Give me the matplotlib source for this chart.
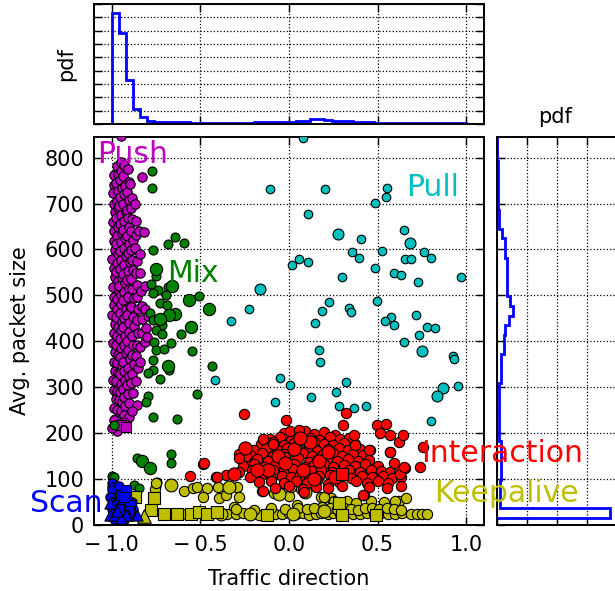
import numpy as np
import matplotlib
matplotlib.use("Agg")
import matplotlib.pyplot as plt

plt.rcParams['font.family'] = ['DejaVu Sans']

# ---------------- data ----------------
x_ticks = [-1.0, -0.5, 0.0, 0.5, 1.0]
x_ticklabels = ['\u2212\u20091.0', '\u2212\u20090.5', '0.0', '0.5', '1.0']
y_ticks = [0, 100, 200, 300, 400, 500, 600, 700, 800]

# Push (magenta)
push_x = [
    -0.99, -0.985, -0.995, -0.988, -0.982, -0.993, -0.986, -0.99, -0.981, -0.996, -0.987, -0.983, -0.994,
    -0.985, -0.99, -0.997, -0.982, -0.988, -0.995, -0.984, -0.99, -0.98, -0.993, -0.986, -0.978, -0.988,
    -0.97, -0.965, -0.975, -0.962, -0.972, -0.967, -0.976, -0.962, -0.97, -0.974, -0.964, -0.97, -0.977, -0.966,
    -0.96, -0.973, -0.968, -0.975, -0.963, -0.97, -0.976, -0.965, -0.97, -0.962, -0.974, -0.968, -0.96, -0.97, -0.965,
    -0.95, -0.945, -0.955, -0.943, -0.951, -0.957, -0.947, -0.953, -0.94, -0.949, -0.955, -0.945, -0.952, -0.943, -0.958,
    -0.948, -0.945, -0.954, -0.941, -0.95, -0.956, -0.945, -0.951, -0.943, -0.955, -0.947, -0.952, -0.942, -0.95, -0.955,
    -0.93, -0.935, -0.925, -0.932, -0.938, -0.922, -0.93, -0.936, -0.926, -0.933, -0.92, -0.931, -0.937, -0.924, -0.93,
    -0.934, -0.921, -0.929, -0.936, -0.925, -0.932, -0.92, -0.934, -0.928, -0.923, -0.935, -0.93, -0.926, -0.933,
    -0.91, -0.905, -0.915, -0.902, -0.913, -0.907, -0.9, -0.916, -0.905, -0.911, -0.898, -0.908, -0.915, -0.903,
    -0.909, -0.897, -0.912, -0.905, -0.901, -0.914, -0.906, -0.899, -0.91, -0.904, -0.915, -0.907, -0.901,
    -0.895, -0.888, -0.892, -0.884, -0.89, -0.882, -0.893, -0.886, -0.878, -0.89, -0.884, -0.876, -0.889, -0.88,
    -0.874, -0.887, -0.879, -0.885, -0.872, -0.883, -0.89, -0.878,
    -0.87, -0.865, -0.862, -0.866, -0.858, -0.863, -0.855, -0.86, -0.852, -0.857, -0.85, -0.858, -0.862, -0.854, -0.864,
    -0.848, -0.842, -0.838, -0.835, -0.83, -0.828, -0.832, -0.838, -0.843,
    -0.83, -0.82, -0.815, -0.81, -0.805, -0.815,
    -0.795, -0.8,
    -0.97, -1.0, -0.9, -0.86, -0.885, -0.95, -0.93, -0.99,
]
push_y = [
    762, 741, 722, 699, 681, 660, 641, 619, 598, 580, 559, 540, 518,
    497, 479, 458, 437, 418, 396, 377, 356, 335, 316, 294, 275, 254,
    781, 765, 744, 727, 706, 690, 668, 650, 629, 611, 590, 571, 550, 532,
    511, 492, 471, 452, 431, 412, 392, 371, 352, 331, 313, 291, 272, 251, 232,
    790, 772, 752, 733, 714, 694, 676, 655, 637, 616, 597, 578, 558, 539, 520,
    500, 482, 461, 443, 424, 404, 385, 366, 346, 328, 307, 289, 268, 249, 228,
    785, 760, 738, 720, 699, 681, 662, 642, 624, 603, 585, 566, 546, 528, 507,
    489, 470, 450, 432, 411, 393, 374, 354, 336, 315, 297, 278, 259, 240,
    775, 748, 726, 708, 687, 668, 649, 630, 611, 592, 573, 553, 534, 515,
    496, 477, 458, 439, 420, 401, 382, 362, 343, 324, 305, 286, 266,
    742, 712, 690, 666, 641, 620, 598, 577, 556, 536, 515, 494, 474, 453,
    433, 412, 391, 370, 350, 329, 309, 288,
    700, 662, 631, 604, 575, 548, 522, 497, 470, 446, 419, 393, 367, 341, 314,
    640, 590, 548, 510, 477, 448, 418, 388, 356,
    757, 638, 520, 470, 430, 398,
    455, 410,
    205, 212, 235, 262, 248, 848, 225, 228,
]
push_sq_x = [-0.945, -0.917]
push_sq_y = [217, 213]

# Mix (green)
mix_x = [-0.774, -0.774, -0.644, -0.68, -0.593, -0.767, -0.748, -0.68, -0.78, -0.738, -0.766, -0.695,
         -0.507, -0.729, -0.688, -0.785, -0.77, -0.714, -0.748, -0.718, -0.612, -0.763, -0.667, -0.751,
         -0.704, -0.546, -0.767, -0.676, -0.767, -0.729, -0.433, -0.518, -0.793, -0.804, -0.767, -0.633,
         -0.793, -0.857, -0.663, -0.663, -1.0, -0.99, -0.876, -0.846, -0.747, -0.75, -0.99]
mix_y = [772, 735, 628, 612, 614, 598, 542, 518, 525, 512, 505, 500,
         499, 483, 480, 462, 446, 435, 424, 415, 415, 398, 397, 382,
         384, 379, 359, 337, 337, 319, 346, 285, 281, 268, 235, 230,
         330, 147, 154, 136, 106, 104, 87, 80, 94, 86, 217]
mix_big_x = [-0.748, -0.659, -0.565, -0.452, -0.644, -0.676, -0.729, -0.555, -0.685, -0.827, -0.785]
mix_big_y = [558, 520, 491, 470, 460, 457, 449, 431, 347, 140, 125]

# Pull (cyan)
pull_x = [0.077, 0.203, 0.555, 0.548, 0.486, 0.109, 0.405, 0.651, 0.356, 0.395,
          0.524, 0.655, 0.691, 0.763, 0.80, 0.058, 0.109, 0.015, 0.486, 0.30,
          0.593, 0.634, 0.729, 0.972, 0.499, 0.228, 0.186, 0.341, 0.35, 0.145,
          0.575, 0.544, 0.593, 0.719, 0.78, 0.823, 0.731, 0.648, 0.168, 0.175,
          0.927, 0.929, 0.32, 0.266, 0.126, 0.951, 0.284, 0.369, 0.437, 0.005,
          -0.105, -0.226, -0.328, -0.416, -0.051, -0.077, 0.80]
pull_y = [843, 732, 735, 715, 702, 678, 622, 643, 595, 582,
          597, 579, 579, 595, 582, 580, 572, 567, 560, 540,
          548, 544, 530, 541, 487, 486, 467, 472, 464, 440,
          453, 444, 435, 457, 431, 428, 413, 399, 382, 356,
          369, 362, 311, 290, 278, 302, 259, 254, 259, 304,
          731, 471, 445, 315, 321, 268, 226]
pull_big_x = [0.275, 0.685, 0.75, 0.866, 0.836, -0.165]
pull_big_y = [633, 615, 379, 298, 282, 515]

# Interaction (red)
inter_x = [
    -0.03, 0.03, 0.09, 0.14, 0.2, 0.26,
    -0.11, -0.05, 0.01, 0.06, 0.12, 0.17, 0.23, 0.29, 0.34,
    -0.16, -0.09, -0.03, 0.03, 0.08, 0.14, 0.2, 0.25, 0.31, 0.37,
    -0.2, -0.13, -0.07, -0.01, 0.05, 0.11, 0.16, 0.22, 0.28, 0.33, 0.4,
    -0.22, -0.15, -0.09, -0.03, 0.02, 0.08, 0.13, 0.19, 0.25, 0.3, 0.36, 0.42,
    -0.24, -0.18, -0.12, -0.06, 0.0, 0.05, 0.11, 0.16, 0.22, 0.27, 0.33, 0.39, 0.45,
    -0.26, -0.2, -0.14, -0.08, -0.02, 0.03, 0.09, 0.14, 0.2, 0.25, 0.31, 0.37, 0.43, 0.5,
    -0.28, -0.21, -0.15, -0.09, -0.03, 0.02, 0.07, 0.13, 0.18, 0.24, 0.34, 0.4, 0.46, 0.52, 0.57, 0.62,
    -0.22, -0.16, -0.1, -0.04, 0.01, 0.06, 0.12, 0.17, 0.23, 0.35, 0.41, 0.47, 0.53, 0.58, 0.63,
    -0.17, -0.1, -0.03, 0.04, 0.1, 0.16, 0.22, 0.28, 0.38, 0.44, 0.5, 0.56,
    -0.08, 0.0, 0.08, 0.15, 0.22, 0.3, 0.45, 0.55,
    -0.559, -0.484, -0.412, -0.358, -0.309, -0.017, 0.307, 0.495, 0.546, 0.571,
    0.618, 0.458, 0.571, 0.59, 0.655, 0.74, 0.755, 0.627, 0.631, 0.425,
    0.085, -0.149, 0.006, 0.056, -0.145, -0.252, -0.281, -0.24, -0.283, -0.252,
    -0.092, -0.021, 0.322, 0.369, 0.514, 0.642, 0.567, 0.646, 0.454, 0.373,
    -0.48, -0.408, 0.42,
]
inter_y = [
    201, 197, 204, 199, 203, 196,
    188, 192, 186, 193, 189, 185, 191, 187, 190,
    176, 180, 175, 179, 174, 181, 177, 175, 179, 176,
    164, 168, 163, 167, 165, 169, 162, 166, 168, 163, 165,
    152, 156, 151, 155, 153, 157, 150, 154, 156, 151, 155, 153,
    140, 144, 139, 143, 141, 145, 138, 142, 144, 139, 143, 140, 142,
    128, 132, 127, 131, 129, 133, 126, 130, 132, 127, 131, 129, 132, 128,
    116, 120, 115, 119, 117, 121, 114, 118, 120, 115, 119, 116, 120, 117, 115, 118,
    104, 108, 103, 107, 105, 109, 102, 106, 108, 103, 107, 104, 106, 102, 105,
    93, 96, 91, 95, 92, 97, 90, 94, 96, 91, 95, 92,
    81, 84, 79, 83, 80, 85, 82, 80,
    106, 132, 104, 109, 112, 228, 217, 217, 221, 197,
    181, 163, 159, 134, 125, 127, 170, 112, 85, 65,
    71, 74, 204, 207, 187, 168, 154, 150, 145, 241,
    176, 148, 244, 197, 201, 196, 159, 127, 163, 174,
    134, 105, 65,
]
inter_big_x = [-0.31, -0.25, -0.12, -0.06, 0.03, 0.08, 0.12, 0.17, 0.22, 0.26, -0.18, 0.06, -0.02, 0.14]
inter_big_y = [112, 168, 120, 150, 165, 120, 180, 140, 160, 105, 120, 190, 135, 100]
inter_sq_x = [0.298]
inter_sq_y = [110]

# Keepalive (olive)
keep_x = [-0.665, -0.757, -0.753, -0.593, -0.54, -0.52, -0.462, -0.486, -0.401, -0.395,
          -0.358, -0.339, -0.295, -0.282, -0.151, -0.085, -0.056, 0.0, 0.01, 0.066,
          0.089, 0.179, 0.236, 0.254, 0.329, 0.461, 0.537, 0.621, -0.311, 0.047,
          0.188, 0.377, 0.6, 0.66, 0.198,
          -0.44, -0.4, -0.35, -0.3, -0.26, -0.21, -0.17, -0.12, -0.08, -0.04, 0.0, 0.04, 0.08, 0.11,
          0.15, 0.18, 0.22, 0.25, 0.29, 0.33, 0.36, 0.4, 0.44, 0.48, 0.52, 0.56, 0.6, 0.64,
          -0.3, -0.2, -0.1, -0.02, 0.05, 0.1, 0.14, 0.19, 0.23, 0.27, 0.31, 0.35, 0.39, 0.43,
          0.47, 0.51, 0.55, 0.59, 0.63,
          0.69, 0.72, 0.75, 0.78, -0.58, -0.52]
keep_y = [88, 78, 91, 74, 80, 82, 81, 62, 83, 59,
          65, 83, 83, 62, 74, 69, 67, 64, 83, 78,
          72, 60, 58, 53, 53, 53, 51, 53, 40, 43,
          40, 47, 53, 58, 60,
          24, 26, 23, 25, 27, 24, 22, 26, 25, 23, 27, 24, 26, 22,
          25, 27, 23, 26, 24, 28, 25, 23, 27, 24, 26, 25, 23, 27,
          35, 33, 36, 34, 37, 35, 38, 33, 36, 34, 37, 35, 33, 38,
          36, 34, 37, 35, 33,
          24, 24, 25, 24, 24, 26]
keep_big_x = [-0.665, -0.339, -0.056, 0.089, -0.386, -0.22, 0.02, 0.2]
keep_big_y = [88, 83, 67, 72, 23, 24, 25, 30]
keep_sq_x = [-0.763, -0.866, -0.781, -0.706, -0.631, -0.555, -0.508, -0.462, -0.405, -0.123, 0.282, 0.301, 0.49]
keep_sq_y = [58, 62, 33, 23, 23, 23, 28, 23, 28, 22, 47, 22, 22]
keep_tri_x = [-0.819]
keep_tri_y = [20]

# Scan (blue)
scan_x = [-0.998, -0.998, -1.0, -0.983, -0.922, -0.885, -0.95, -1.01, -0.97, -0.94, -0.91, -0.88, -0.99, -0.93, -0.96, -1.0]
scan_y = [91, 83, 76, 60, 74, 51, 40, 62, 50, 45, 55, 35, 12, 10, 85, 35]
scan_sq_x = [-0.945, -0.917, -0.898, -0.932, -0.96, -0.905]
scan_sq_y = [65, 76, 43, 62, 35, 30]
scan_tri_x = [-1.0, -1.011, -0.907, -1.007, -0.989, -0.922, -0.857, -0.95, -0.97]
scan_tri_y = [51, 22, 22, 47, 22, 22, 22, 15, 30]

# marginal histograms (pdf)
dir_edges = np.linspace(-1.0, 1.0, 51)
dir_pdf = [8.3, 6.85, 3.3, 1.1, 0.5, 0.25,
           0.18, 0.15, 0.13, 0.12, 0.12, 0.11, 0.11, 0.1, 0.1, 0.1, 0.1, 0.1, 0.1, 0.1,
           0.12, 0.12, 0.12, 0.13, 0.15,
           0.18, 0.2, 0.25, 0.37, 0.37, 0.3, 0.25, 0.22, 0.2, 0.15, 0.13, 0.12, 0.1,
           0.1, 0.09, 0.09, 0.08, 0.08, 0.08, 0.08, 0.07, 0.07, 0.06, 0.05, 0.04]
size_edges = 15 + 21 * np.arange(41)
size_pdf = [3.78, 0.09, 0.09, 0.09, 0.13, 0.13, 0.13, 0.13, 0.06, 0.06,
            0.05, 0.06, 0.05, 0.06, 0.13, 0.13, 0.13, 0.22, 0.22, 0.28,
            0.41, 0.52, 0.44, 0.33, 0.33, 0.33, 0.33, 0.28, 0.28, 0.17,
            0.05, 0.05, 0.04, 0.04, 0.04, 0.03, 0.02, 0.01, 0.0, 0.01]

# ---------------- figure ----------------
W, H = 615, 591
fig = plt.figure(figsize=(W / 100, H / 100), dpi=100)
ax = fig.add_axes([94 / W, 1 - 525 / H, 390 / W, 388 / H])
axt = fig.add_axes([94 / W, 1 - 124 / H, 390 / W, 120 / H])
axr = fig.add_axes([497 / W, 1 - 525 / H, 135 / W, 388 / H])
ax.set_zorder(3)

C_M = (0.75, 0, 0.75)
C_G = (0, 0.5, 0)
C_C = (0, 0.75, 0.75)
C_R = (1, 0, 0)
C_Y = (0.75, 0.75, 0)
C_B = (0, 0, 1)


def sc(xs, ys, color, s, marker='o'):
    ax.scatter(xs, ys, s=s, c=[color], marker=marker, edgecolors='k', linewidths=0.8, zorder=3)


sc(push_x, push_y, C_M, 46)
sc(push_sq_x, push_sq_y, C_M, 60, 's')
sc(mix_x, mix_y, C_G, 42)
sc(mix_big_x, mix_big_y, C_G, 78)
sc(pull_x, pull_y, C_C, 38)
sc(pull_big_x, pull_big_y, C_C, 62)
sc(keep_x, keep_y, C_Y, 55)
sc(keep_big_x, keep_big_y, C_Y, 85)
sc(keep_sq_x, keep_sq_y, C_Y, 70, 's')
sc(keep_tri_x, keep_tri_y, C_Y, 95, '^')
sc(inter_x, inter_y, C_R, 55)
sc(inter_big_x, inter_big_y, C_R, 90)
sc(inter_sq_x, inter_sq_y, C_R, 75, 's')
sc(scan_x, scan_y, C_B, 45)
sc(scan_sq_x, scan_sq_y, C_B, 60, 's')
sc(scan_tri_x, scan_tri_y, C_B, 65, '^')

ax.set_xlim(-1.1, 1.1)
ax.set_ylim(0, 845)
ax.set_xticks(x_ticks)
ax.set_xticklabels(x_ticklabels)
ax.set_yticks(y_ticks)
for a in (ax, axt, axr):
    a.grid(True, linestyle=':', color='k', linewidth=0.9)
    a.set_axisbelow(True)
    a.tick_params(direction='in', top=True, right=True, length=6, width=1, labelsize=15, pad=7)
    for sp in a.spines.values():
        sp.set_linewidth(1.4)
ax.set_xlabel('Traffic direction', fontsize=15, labelpad=10)
ax.set_ylabel('Avg. packet size', fontsize=15)
ax.yaxis.set_label_coords(-0.165, 0.5)

lab_kw = dict(fontsize=21.5, ha='left', va='baseline', zorder=10, clip_on=False)
ax.text(-1.085, 789, 'Push', color=C_M, **lab_kw)
ax.text(-0.688, 529, 'Mix', color=C_G, **lab_kw)
ax.text(0.661, 717, 'Pull', color=C_C, **lab_kw)
ax.text(0.746, 137, 'Interaction', color=C_R, **lab_kw)
ax.text(0.819, 51, 'Keepalive', color=C_Y, **lab_kw)
ax.text(-1.463, 29, 'Scan', color=C_B, **lab_kw)

# top histogram
axt.stairs(dir_pdf, dir_edges, color='b', linewidth=2, baseline=0)
axt.set_xlim(-1.1, 1.1)
axt.set_ylim(0, 9)
axt.set_xticks(x_ticks)
axt.set_yticks(range(10))
axt.set_xticklabels([])
axt.set_yticklabels([])
axt.set_ylabel('pdf', fontsize=15)
axt.yaxis.set_label_coords(-0.045, 0.5)

# right histogram
axr.stairs(size_pdf, size_edges, orientation='horizontal', color='b', linewidth=2, baseline=0)
axr.set_ylim(0, 845)
axr.set_xlim(0, 4.5)
axr.set_xticks([0, 1, 2, 3, 4])
axr.set_yticks(y_ticks)
axr.set_xticklabels([])
axr.set_yticklabels([])
axr.set_title('pdf', fontsize=15, pad=10, x=(555 - 497) / 135)

fig.savefig('out.png', dpi=100)
